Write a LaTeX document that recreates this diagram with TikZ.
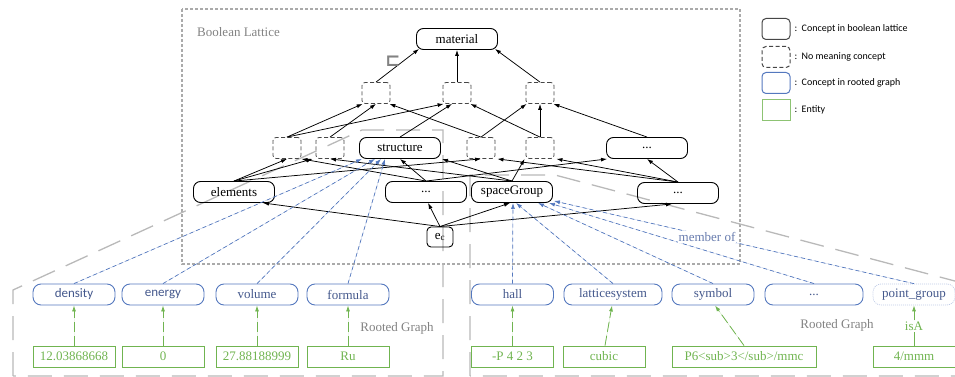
\documentclass[tikz,border=0pt]{standalone}
\usepackage{fontspec}
\setmainfont{Liberation Serif}
\newfontfamily\legendfont{Carlito}
\newfontfamily\symfont{DejaVu Sans}
\usetikzlibrary{arrows.meta}

\definecolor{latgray}{RGB}{170,170,170}
\definecolor{labgray}{RGB}{130,130,130}
\definecolor{rgray}{RGB}{185,185,185}
\definecolor{cblue}{RGB}{84,120,190}
\definecolor{tblue}{RGB}{68,88,140}
\definecolor{mblue}{RGB}{105,125,175}
\definecolor{cgreen}{RGB}{112,180,80}
\definecolor{dgray}{RGB}{70,70,70}
\definecolor{pgblue}{RGB}{190,202,230}

\begin{document}
\begin{tikzpicture}[x=1pt,y=-1pt,font=\fontsize{13}{15}\selectfont,
  concept/.style={draw=black,line width=0.9pt,rounded corners=7pt,minimum width=81pt,minimum height=21pt,inner sep=1pt},
  blank/.style={draw=dgray,dash pattern=on 4pt off 2.5pt,line width=0.8pt,rounded corners=3pt,minimum width=28pt,minimum height=21pt,inner sep=0pt},
  rootc/.style={draw=cblue,line width=0.9pt,rounded corners=8pt,minimum width=82pt,minimum height=21pt,inner sep=1pt,text=tblue},
  entity/.style={draw=cgreen,line width=0.9pt,minimum width=82pt,minimum height=21pt,inner sep=1pt,text=cgreen},
  sub/.style={-{Latex[length=6pt,width=4pt]},line width=0.75pt},
  member/.style={-{Latex[length=6pt,width=4pt]},draw=cblue,fill=cblue,line width=0.7pt,dash pattern=on 4pt off 3pt},
  value/.style={-{Latex[length=6pt,width=4pt]},draw=cgreen,fill=cgreen,line width=0.8pt,dash pattern=on 10pt off 4pt},
  region/.style={draw=rgray,line width=1.3pt,dash pattern=on 24pt off 12pt},
  legbox/.style={minimum width=28pt,minimum height=21pt,line width=1pt,rounded corners=4pt},
  legtext/.style={anchor=west,font=\legendfont\fontsize{10}{12}\selectfont}
]
\useasboundingbox (0,0) rectangle (955,377);

% Boolean lattice frame
\draw[latgray,line width=1.6pt,dash pattern=on 3pt off 2pt] (182,9) rectangle (740,264);
\node[anchor=west,text=labgray,inner sep=0pt] (bltitle) at (197,32) {Boolean Lattice};

% rooted graph frames
\begin{scope}
\clip (0,0) rectangle (955,377);
\draw[region] (13,376) -- (13,290) -- (362,130) -- (443,130) -- (443,376) -- cycle;
\draw[region] (470,376) -- (470,175) -- (555,175) -- (985,289) -- (985,376) -- cycle;
\end{scope}

% lattice concepts
\node[concept] (mat) at (457,39) {material};
\node[blank] (a) at (376,93) {};
\node[blank] (b) at (457,93) {};
\node[blank] (c) at (540,93) {};
\node[blank] (d1) at (287,148) {};
\node[blank] (d2) at (330,148) {};
\node[concept] (str) at (400,148) {structure};
\node[blank] (d3) at (481,148) {};
\node[blank] (d4) at (540,148) {};
\node[concept] (dl3) at (647,148) {...};
\node[concept] (el) at (234,192) {elements};
\node[concept] (dm) at (426,192) {...};
\node[concept] (sg) at (512,192) {spaceGroup};
\node[concept] (dr) at (678,193) {...};
\node[concept,minimum width=26pt,minimum height=20pt,rounded corners=4pt] (ec) at (440,237) {e\textsubscript{c}};

% subsumption edges
\draw[sub] (a.north) -- ([xshift=3pt,yshift=1pt]mat.south west);
\draw[sub] (b.north) -- (mat.south);
\draw[sub] (c.north) -- ([xshift=-3pt,yshift=1pt]mat.south east);

\draw[sub] (d1.north) -- ([xshift=1pt]a.south west);
\draw[sub] (d1.north) -- ([xshift=1pt]b.south west);
\draw[sub] (d2.north) -- (a.south);
\draw[sub] (d3.north) -- ([xshift=-1pt]a.south east);
\draw[sub] (str.north) -- ([xshift=-5pt]b.south);
\draw[sub] (d4.north) -- ([xshift=-1pt]b.south east);
\draw[sub] (d3.north) -- ([xshift=1pt]c.south west);
\draw[sub] (d4.north) -- (c.south);
\draw[sub] (dl3.north) -- ([xshift=-1pt]c.south east);

\draw[sub] (el.north) -- (d1.south);
\draw[sub] (el.north) -- ([xshift=-3pt]d2.south west);
\draw[sub] (el.north) -- (d3.south);
\draw[sub] (dm.north) -- (d1.south east);
\draw[sub] (dm.north) -- (str.south);
\draw[sub] (dm.north) -- ([xshift=1pt]dl3.south west);
\draw[sub] (sg.north) -- (d2.south);
\draw[sub] (sg.north) -- ([xshift=1pt]str.south east);
\draw[sub] (sg.north) -- ([xshift=-1pt]d4.south west);
\draw[sub] (dr.north) -- ([xshift=2pt]d3.south east);
\draw[sub] (dr.north) -- ([xshift=2pt]d4.south east);
\draw[sub] (dr.north) -- (dl3.south);

\draw[sub] (ec.north) -- ([xshift=-12pt]el.south east);
\draw[sub] (ec.north) -- ([xshift=2pt]dm.south);
\draw[sub] (ec.north) -- ([xshift=-2pt]sg.south);
\draw[sub] (ec.north) -- ([xshift=-6pt]dr.south);

% subsumption mark beside the edge to material
\node[inner sep=0pt,text=labgray,font=\symfont\bfseries\fontsize{18}{18}\selectfont] (sqsub) at (393,61) {⊏};

% rooted graph concepts
\node[rootc,font=\legendfont\fontsize{13}{15}\selectfont] (den) at (74,294.5) {density};
\node[rootc,font=\legendfont\fontsize{13}{15}\selectfont] (ene) at (163,294.5) {energy};
\node[rootc] (vol) at (257,294.5) {volume};
\node[rootc] (form) at (348,294.5) {formula};
\node[rootc] (hall) at (512.5,294.5) {hall};
\node[rootc,minimum width=98pt] (latt) at (613,294.5) {latticesystem};
\node[rootc] (sym) at (713,294.5) {symbol};
\node[rootc,minimum width=98pt] (bdots) at (814,294.5) {...};
\node[rootc,draw=pgblue,dash pattern=on 1pt off 1pt,line width=0.7pt] (pg) at (914,294.5) {point\_group};

% entities
\node[entity] (v1) at (74,356.5) {12.03868668};
\node[entity] (v2) at (163,356.5) {0};
\node[entity] (v3) at (257,356.5) {27.88188999};
\node[entity] (v4) at (348,356.5) {Ru};
\node[entity] (v5) at (512.5,356.5) {-P 4 2 3};
\node[entity] (v6) at (604,356.5) {cubic};
\node[entity,minimum width=144pt] (v7) at (744,356.5) {P6<sub>3</sub>/mmc};
\node[entity] (v8) at (914,356.5) {4/mmm};

% member-of edges
\draw[member] (den.north) -- ([xshift=-38pt]str.south);
\draw[member] (ene.north) -- ([xshift=-25pt]str.south);
\draw[member] (vol.north) -- ([xshift=-19pt]str.south);
\draw[member] (form.north) -- ([xshift=-15pt]str.south);
\draw[member] (hall.north) -- ([xshift=1pt]sg.south);
\draw[member] (latt.north) -- ([xshift=4pt]sg.south);
\draw[member] (sym.north) -- ([xshift=26pt]sg.south);
\draw[member] (bdots.north) -- ([xshift=-4pt]sg.south east);
\draw[member] (pg.north) -- ([xshift=1pt,yshift=2pt]sg.south east);
\node[fill=white,inner sep=1pt,text=mblue] (memberof) at (707,237) {member of};

% value edges
\draw[value] (v1.north) -- (den.south);
\draw[value] (v2.north) -- (ene.south);
\draw[value] (v3.north) -- (vol.south);
\draw[value] (v4.north) -- (form.south);
\draw[value] (v5.north) -- (hall.south);
\draw[value] ([xshift=1pt]v6.north) -- ([xshift=-1pt]latt.south);
\draw[value] (v7.north) -- ([xshift=2pt]sym.south);
\node[text=cgreen,inner sep=1pt] (isa) at (914,326) {isA};
\draw[cgreen,line width=0.8pt] (v8.north) -- (isa.south);
\draw[cgreen,line width=0.8pt,-{Latex[length=6pt,width=4pt]}] (isa.north) -- (pg.south);

\node[text=labgray,inner sep=0pt] (rg1) at (397,328) {Rooted Graph};
\node[text=labgray,inner sep=0pt] (rg2) at (837,325) {Rooted Graph};

% legend
\node[legbox,draw=dgray] (k1) at (776,29) {};
\node[legbox,draw=dgray,dash pattern=on 4pt off 2.5pt] (k2) at (776,57) {};
\node[legbox,draw=cblue] (k3) at (776,83) {};
\node[legbox,draw=cgreen!80,rounded corners=0pt] (k4) at (776,110) {};
\node[legtext] (t1) at (791,29) {:\ \ Concept in boolean lattice};
\node[legtext] (t2) at (791,57) {:\ \ No meaning concept};
\node[legtext] (t3) at (791,83) {:\ \ Concept in rooted graph};
\node[legtext] (t4) at (791,110) {:\ \ Entity};
\end{tikzpicture}
\end{document}
